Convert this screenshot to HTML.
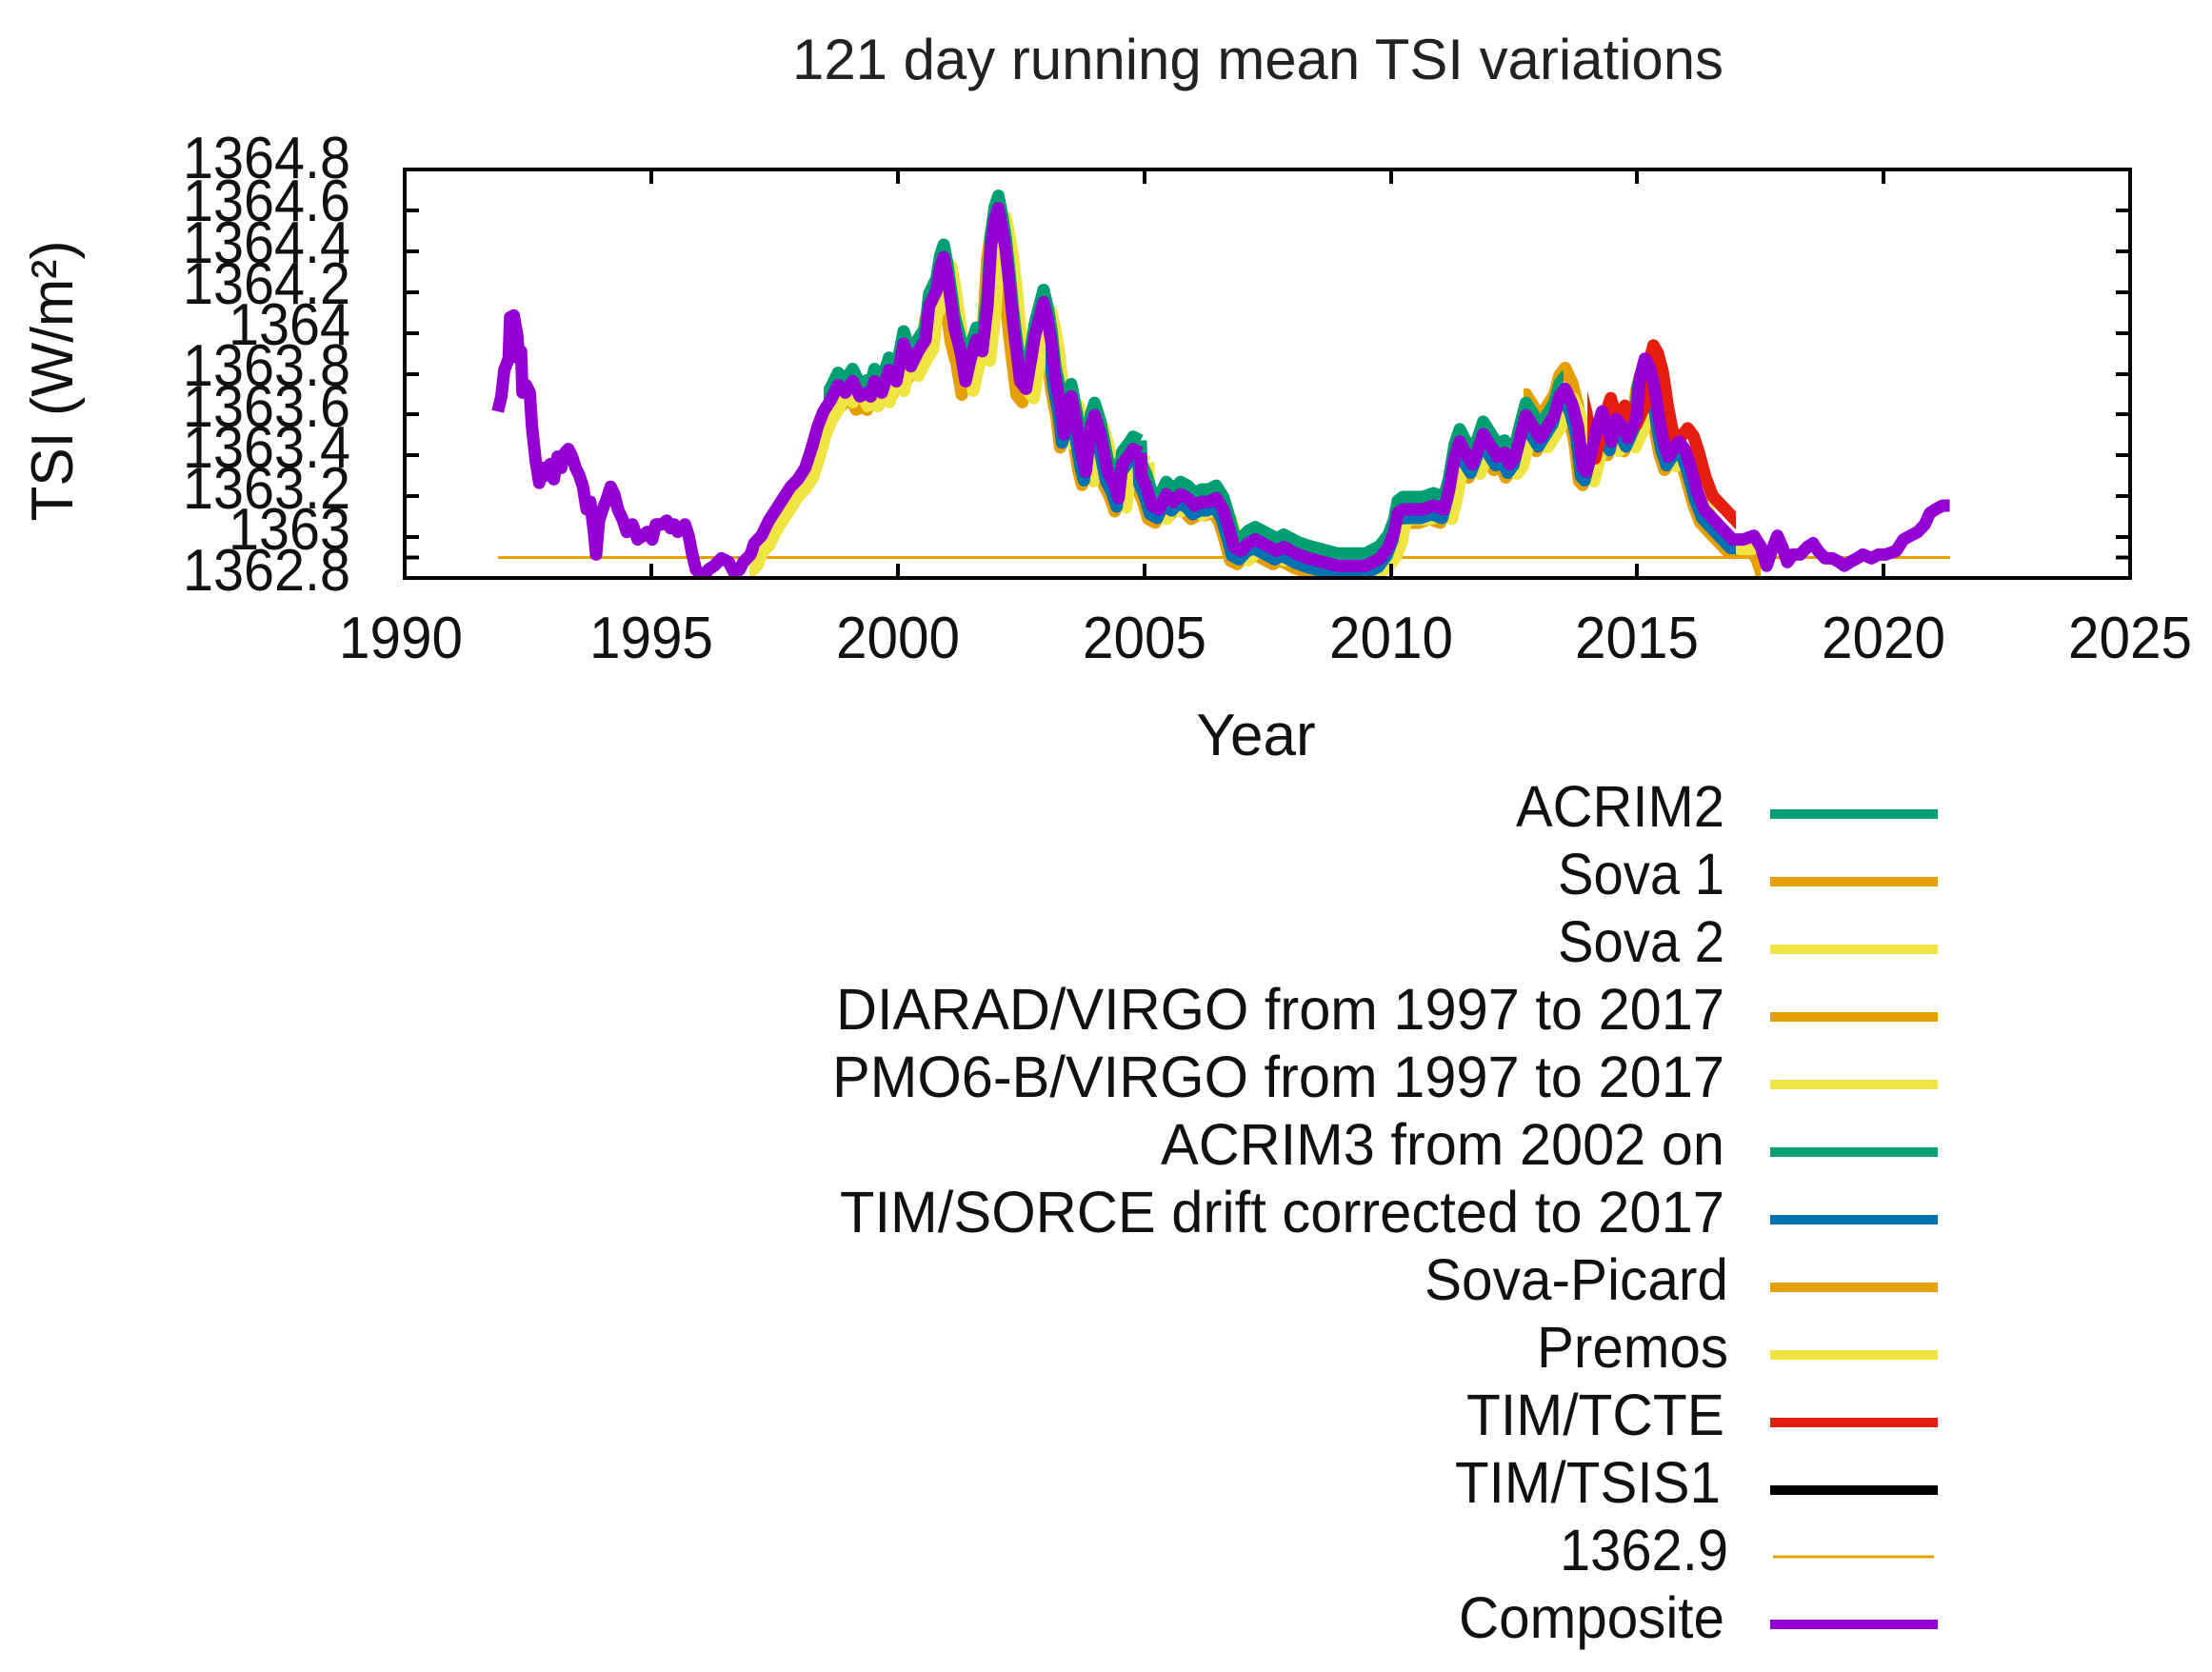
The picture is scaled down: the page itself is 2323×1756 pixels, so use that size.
<!DOCTYPE html>
<html><head><meta charset="utf-8"><style>html,body{margin:0;padding:0;background:#fff}svg{display:block}</style></head>
<body>
<svg width="2323" height="1756" viewBox="0 0 2323 1756" xmlns="http://www.w3.org/2000/svg" font-family="Liberation Sans, sans-serif">
<defs>
<clipPath id="plot"><rect x="425" y="178" width="1812" height="429"/></clipPath>
<clipPath id="cY"><rect x="787" y="0" width="1062" height="700"/></clipPath>
<clipPath id="cO"><rect x="787" y="0" width="1062" height="700"/></clipPath>
<clipPath id="cO2"><rect x="1600" y="0" width="70" height="700"/></clipPath>
<clipPath id="cG"><rect x="865" y="0" width="777" height="700"/></clipPath>
<clipPath id="cB"><rect x="1098" y="0" width="725" height="700"/></clipPath>
<clipPath id="cR"><rect x="1667" y="0" width="156" height="700"/></clipPath>
<g id="comp" fill="none" stroke-linejoin="round">
<g transform="translate(0,100) scale(0.7653,0.3954)">
<path vector-effect="non-scaling-stroke" d="M683,840 L688,800 692,730 698,700 700,590 705,585 710,640 712,700 715,680 717,790 722,770 727,790 730,880 735,970 740,1030 745,990 750,1010 755,980 760,1020 765,960 770,990 775,950 780,940 785,960 790,990 795,1010 800,1040 805,1100 810,1080 815,1160 818,1220 822,1130 827,1100 833,1070 838,1040 843,1060 848,1100 855,1130 860,1160 868,1140 875,1180 882,1170 888,1160 895,1180 900,1140 908,1140 915,1130 920,1150 925,1140 930,1160 940,1140 945,1170 950,1220 955,1260 960,1270 965,1280 972,1260 980,1250 990,1230 1000,1240 1008,1270 1015,1260 1020,1240 1030,1220 1035,1190 1045,1170 1055,1130 1065,1100 1075,1070 1085,1040 1095,1020 1105,990 1115,930 1122,880 1130,840 1140,810 1150,770 1160,790 1170,760 1180,800 1190,790 1195,800 1200,760 1210,790 1220,730 1230,760 1240,660 1250,720 1260,680 1270,650 1275,560 1285,520 1290,460 1295,430 1300,480 1305,550 1310,620 1318,680 1325,760 1332,700 1340,650 1348,680 1355,560 1360,400 1365,330 1370,300 1375,350 1380,410 1385,500 1390,600 1395,680 1400,760 1408,780 1415,700 1420,640 1428,580 1432,550 1438,600 1443,660 1448,750 1455,820 1460,900 1465,870 1470,800 1478,880 1485,960 1490,1000 1497,880 1502,850 1510,900 1515,950 1520,1000 1528,1030 1535,1070 1540,980 1548,960 1555,940 1565,950"/>
</g>
<g transform="translate(1150,100) scale(0.748,0.3954)">
<path vector-effect="non-scaling-stroke" d="M64,950 L65,1010 72,1040 80,1090 90,1100 100,1060 110,1080 120,1060 130,1070 140,1090 150,1080 160,1080 170,1070 180,1100 188,1150 195,1200 205,1210 215,1190 225,1180 235,1190 245,1200 255,1210 265,1200 275,1210 285,1220 300,1230 320,1240 340,1250 360,1250 380,1250 400,1230 412,1200 420,1160 425,1110 432,1100 445,1100 460,1100 475,1090 490,1100 497,1050 505,960 512,920 520,950 530,980 538,940 545,900 555,930 565,960 575,950 582,980 590,960 598,900 605,850 615,880 625,910 635,880 645,850 652,800 660,780 670,820 678,880 685,990 690,1000 698,940 705,880 712,840 718,880 725,920 732,860 740,880 748,910 755,880 760,860 765,750 772,700 778,720 785,770 792,860 798,920 805,960 812,940 820,920 828,940 835,980 845,1050 855,1100 865,1120 875,1140 885,1160 895,1180 910,1180 925,1170 935,1200 943,1250 950,1210 958,1170 965,1200 972,1240 980,1220 990,1220 1000,1200 1008,1190 1015,1210 1025,1230 1035,1230 1045,1240 1052,1250 1060,1240 1070,1230 1078,1220 1090,1230 1100,1220 1110,1220 1125,1210 1135,1180 1145,1170 1155,1160 1165,1140 1172,1110 1180,1100 1190,1090 1200,1090"/>
</g>
</g>
</defs>

<text x="1321" y="83" font-size="60" text-anchor="middle" textLength="978" lengthAdjust="spacingAndGlyphs" fill="#222">121 day running mean TSI variations</text>

<g clip-path="url(#plot)">
<line x1="523" y1="585.5" x2="2048" y2="585.5" stroke="#e69f00" stroke-width="3"/>
<g clip-path="url(#cO)"><use href="#comp" stroke="#e69f00" stroke-width="13" transform="translate(-4,14)"/></g>
<g clip-path="url(#cO2)"><use href="#comp" stroke="#e69f00" stroke-width="13" transform="translate(0,-22)"/></g>
<g clip-path="url(#cY)"><use href="#comp" stroke="#f0e442" stroke-width="13" transform="translate(8,10)"/></g>
<g clip-path="url(#cG)"><use href="#comp" stroke="#009e73" stroke-width="13" transform="translate(0,-13)"/></g>
<g clip-path="url(#cB)"><use href="#comp" stroke="#0072b2" stroke-width="13" transform="translate(-2,9)"/></g>
<g clip-path="url(#cR)"><use href="#comp" stroke="#e51e10" stroke-width="13" transform="translate(9,-14)"/></g>
<use href="#comp" stroke="#9400d3" stroke-width="13"/>
</g>

<g stroke="#000" stroke-width="4" fill="none">
<rect x="425" y="178" width="1812" height="429"/>
<path d="M684,607v-15M684,178v15M943,607v-15M943,178v15M1202,607v-15M1202,178v15M1461,607v-15M1461,178v15M1719,607v-15M1719,178v15M1978,607v-15M1978,178v15
M425,585.5h15M2237,585.5h-15M425,564h15M2237,564h-15M425,521h15M2237,521h-15M425,478h15M2237,478h-15M425,435h15M2237,435h-15M425,393h15M2237,393h-15M425,350h15M2237,350h-15M425,307h15M2237,307h-15M425,264h15M2237,264h-15M425,221h15M2237,221h-15"/>
</g>

<g font-size="62" text-anchor="end" fill="#111">
<text x="368" y="620" textLength="176" lengthAdjust="spacingAndGlyphs">1362.8</text>
<text x="368" y="577" textLength="128" lengthAdjust="spacingAndGlyphs">1363</text>
<text x="368" y="534" textLength="176" lengthAdjust="spacingAndGlyphs">1363.2</text>
<text x="368" y="491" textLength="176" lengthAdjust="spacingAndGlyphs">1363.4</text>
<text x="368" y="448" textLength="176" lengthAdjust="spacingAndGlyphs">1363.6</text>
<text x="368" y="405" textLength="176" lengthAdjust="spacingAndGlyphs">1363.8</text>
<text x="368" y="362" textLength="128" lengthAdjust="spacingAndGlyphs">1364</text>
<text x="368" y="319" textLength="176" lengthAdjust="spacingAndGlyphs">1364.2</text>
<text x="368" y="276" textLength="176" lengthAdjust="spacingAndGlyphs">1364.4</text>
<text x="368" y="232" textLength="176" lengthAdjust="spacingAndGlyphs">1364.6</text>
<text x="368" y="187" textLength="176" lengthAdjust="spacingAndGlyphs">1364.8</text>
</g>
<g font-size="62" text-anchor="middle" fill="#111">
<text x="421" y="691" textLength="130" lengthAdjust="spacingAndGlyphs">1990</text>
<text x="684" y="691" textLength="130" lengthAdjust="spacingAndGlyphs">1995</text>
<text x="943" y="691" textLength="130" lengthAdjust="spacingAndGlyphs">2000</text>
<text x="1202" y="691" textLength="130" lengthAdjust="spacingAndGlyphs">2005</text>
<text x="1461" y="691" textLength="130" lengthAdjust="spacingAndGlyphs">2010</text>
<text x="1719" y="691" textLength="130" lengthAdjust="spacingAndGlyphs">2015</text>
<text x="1978" y="691" textLength="130" lengthAdjust="spacingAndGlyphs">2020</text>
<text x="2237" y="691" textLength="130" lengthAdjust="spacingAndGlyphs">2025</text>
<text x="1319" y="793">Year</text>
</g>
<text transform="translate(76,400) rotate(-90)" font-size="62" text-anchor="middle" textLength="295" lengthAdjust="spacingAndGlyphs" fill="#111">TSI (W/m²)</text>

<g font-size="61" text-anchor="end" fill="#111">
<text x="1811" y="868" textLength="219" lengthAdjust="spacingAndGlyphs">ACRIM2</text>
<text x="1811" y="939" textLength="175" lengthAdjust="spacingAndGlyphs">Sova 1</text>
<text x="1811" y="1010" textLength="175" lengthAdjust="spacingAndGlyphs">Sova 2</text>
<text x="1811" y="1081" textLength="933" lengthAdjust="spacingAndGlyphs">DIARAD/VIRGO from 1997 to 2017</text>
<text x="1811" y="1152" textLength="937" lengthAdjust="spacingAndGlyphs">PMO6-B/VIRGO from 1997 to 2017</text>
<text x="1811" y="1223" textLength="592" lengthAdjust="spacingAndGlyphs">ACRIM3 from 2002 on</text>
<text x="1811" y="1294" textLength="929" lengthAdjust="spacingAndGlyphs">TIM/SORCE drift corrected to 2017</text>
<text x="1815" y="1365" textLength="319" lengthAdjust="spacingAndGlyphs">Sova-Picard</text>
<text x="1815" y="1436" textLength="201" lengthAdjust="spacingAndGlyphs">Premos</text>
<text x="1811" y="1507" textLength="271" lengthAdjust="spacingAndGlyphs">TIM/TCTE</text>
<text x="1807" y="1578" textLength="279" lengthAdjust="spacingAndGlyphs">TIM/TSIS1</text>
<text x="1815" y="1649" textLength="177" lengthAdjust="spacingAndGlyphs">1362.9</text>
<text x="1811" y="1720" textLength="279" lengthAdjust="spacingAndGlyphs">Composite</text>
</g>
<g stroke-width="10">
<line x1="1859" x2="2035" y1="855" y2="855" stroke="#009e73"/>
<line x1="1859" x2="2035" y1="926" y2="926" stroke="#e69f00"/>
<line x1="1859" x2="2035" y1="997" y2="997" stroke="#f0e442"/>
<line x1="1859" x2="2035" y1="1068" y2="1068" stroke="#e69f00"/>
<line x1="1859" x2="2035" y1="1139" y2="1139" stroke="#f0e442"/>
<line x1="1859" x2="2035" y1="1210" y2="1210" stroke="#009e73"/>
<line x1="1859" x2="2035" y1="1281" y2="1281" stroke="#0072b2"/>
<line x1="1859" x2="2035" y1="1352" y2="1352" stroke="#e69f00"/>
<line x1="1859" x2="2035" y1="1423" y2="1423" stroke="#f0e442"/>
<line x1="1859" x2="2035" y1="1494" y2="1494" stroke="#e51e10"/>
<line x1="1859" x2="2035" y1="1565" y2="1565" stroke="#000"/>
<line x1="1862" x2="2031" y1="1635" y2="1635" stroke="#e69f00" stroke-width="3"/>
<line x1="1859" x2="2035" y1="1706" y2="1706" stroke="#9400d3"/>
</g>
</svg>
</body></html>
